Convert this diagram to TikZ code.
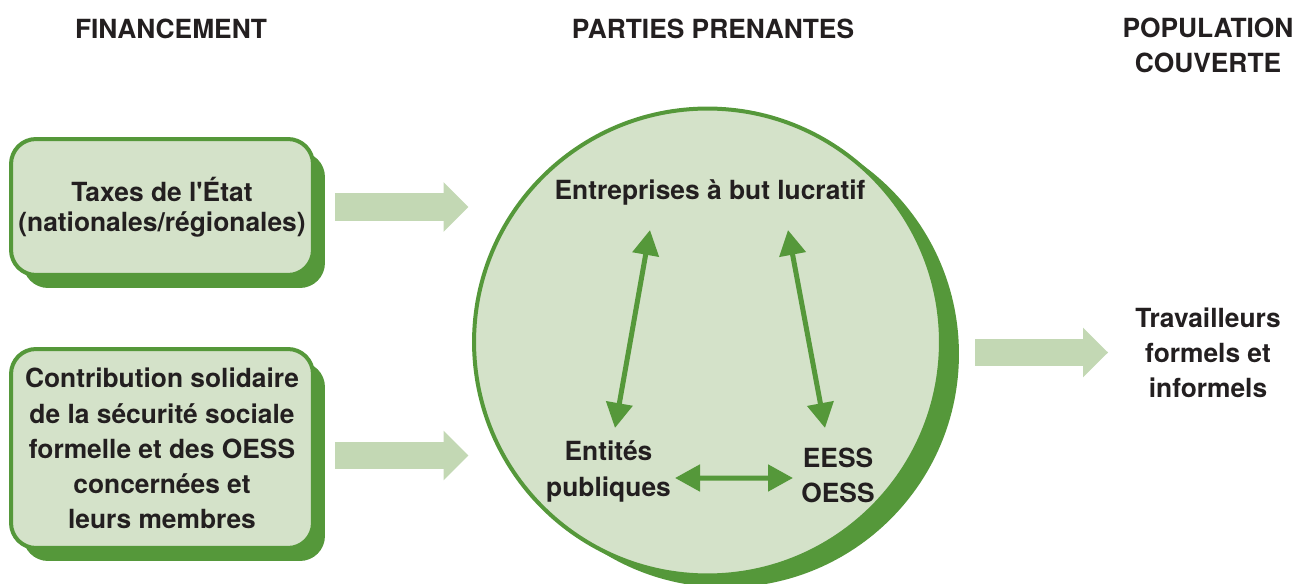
\documentclass[tikz,border=0pt]{standalone}
\usepackage{fontspec}
\setmainfont{TeX Gyre Heros}[Ligatures=TeXOff]
\usetikzlibrary{arrows.meta,shadows}
\definecolor{leafgreen}{HTML}{55983A}
\definecolor{palegreen}{HTML}{D4E2C9}
\definecolor{arrowgreen}{HTML}{C3D8B4}
\definecolor{inkgray}{HTML}{231F20}
\tikzset{
  every node/.style={font=\fontsize{15}{20}\selectfont\bfseries, text=inkgray, align=center},
  fundbox/.style={draw=leafgreen, fill=palegreen, line width=0.08cm, rounded corners=0.5cm,
    minimum width=6.04cm, drop shadow={shadow xshift=0.24cm, shadow yshift=-0.26cm, fill=leafgreen, opacity=1}},
  hubcircle/.style={circle, draw=leafgreen, fill=palegreen, line width=0.08cm, minimum size=9.34cm,
    drop shadow={shadow xshift=0.36cm, shadow yshift=-0.24cm, fill=leafgreen, opacity=1}},
  actor/.style={inner sep=0pt},
  fatarrow/.style={arrowgreen, line width=0.56cm, -{Triangle[length=0.5cm, width=0.96cm]}},
  link/.style={leafgreen, line width=0.1cm, {Triangle[length=0.5cm, width=0.52cm]}-{Triangle[length=0.5cm, width=0.52cm]}}
}
\begin{document}
\begin{tikzpicture}[x=0.02cm, y=-0.02cm]
\useasboundingbox (0,0) rectangle (1308,584);

% Column headers
\node (fin) at (171,28.5) {FINANCEMENT};
\node (parties) at (713,28.5) {PARTIES PRENANTES};
\node (popcov) at (1208,45) {POPULATION\\COUVERTE};

% Funding boxes
\node[fundbox, minimum height=2.72cm, font=\fontsize{15}{17}\selectfont\bfseries] (tax) at (162,207)
  {Taxes de l'État\\(nationales/régionales)};
\node[fundbox, minimum height=3.98cm] (contrib) at (162,448.5)
  {Contribution solidaire\\de la sécurité sociale\\formelle et des OESS\\concernées et\\leurs membres};

% Stakeholders
\node[hubcircle] (hub) at (707.5,342) {};
\node[actor, anchor=base] (lucr) at (710,200) {Entreprises à but lucratif};
\node[actor] (pub) at (608.5,471.5) {Entités\\publiques};
\node[actor] (eess) at (838,475) {EESS\\OESS};

% Covered population
\node (trav) at (1208,352.5) {Travailleurs\\formels et\\informels};

% Flows
\draw[fatarrow, shorten >=0.07cm] ([xshift=0.4cm]tax.east) -- (tax.east -| hub.west);
\draw[fatarrow, shorten >=0.07cm] ([shift={(20,7)}]contrib.east) -- ([shift={(0,7)}]contrib.east -| hub.west);
\draw[fatarrow, shorten <=0.65cm, shorten >=0.42cm] (hub.east |- trav.west) -- (trav.west);

% Links between stakeholders
\draw[link] ([shift={(-60,30)}]lucr.base) -- ([shift={(6.5,-43.5)}]pub.center);
\draw[link] ([shift={(78,30)}]lucr.base) -- ([shift={(-13,-47)}]eess.center);
\draw[link] ([shift={(66.5,6.5)}]pub.center) -- ([shift={(-45,3)}]eess.center);
\end{tikzpicture}
\end{document}
